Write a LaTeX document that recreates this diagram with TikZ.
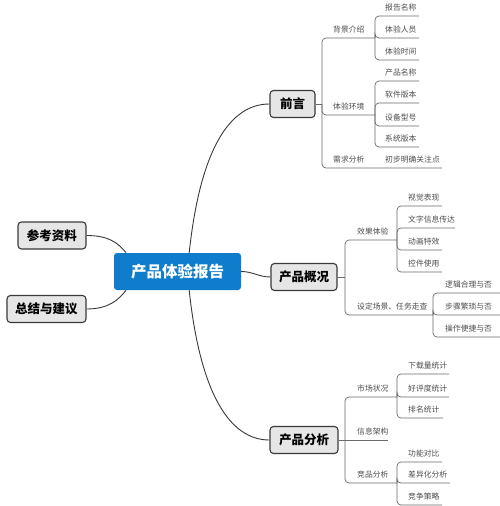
\documentclass[tikz,border=0pt]{standalone}
\usepackage{fontspec}
\setmainfont{Noto Sans CJK SC}
\usetikzlibrary{positioning}
\definecolor{rootblue}{HTML}{0F7DCB}
\definecolor{topicgray}{HTML}{E6E6E6}
\definecolor{edgegray}{HTML}{3A3A3A}
\definecolor{linegray}{HTML}{6A6A6A}
\definecolor{leafgray}{HTML}{4E4E4E}

\begin{document}
\begin{tikzpicture}[
  x=1pt, y=-1pt,
  root/.style={fill=rootblue, text=white, rounded corners=3pt, minimum width=127pt, minimum height=37pt, font=\fontsize{15.5}{16}\selectfont\bfseries},
  topic/.style={draw=edgegray, fill=topicgray, line width=1.1pt, rounded corners=3.5pt, minimum height=27pt, font=\fontsize{12.5}{13}\selectfont\bfseries},
  leaf/.style={anchor=base west, inner sep=0pt, text=leafgray, font=\fontsize{7.8}{8}\selectfont},
  branch/.style={draw=linegray, line width=0.7pt, rounded corners=4pt},
  link/.style={draw=edgegray, line width=0.9pt}
]
\useasboundingbox[fill=white] (0,0) rectangle (500,506);

% central topic and main topics
\node[root] (root) at (177.5,271.5) {产品体验报告};
\node[topic, minimum width=45pt] (qianyan) at (292.5,104) {前言};
\node[topic, minimum width=66pt] (gaikuang) at (304,277) {产品概况};
\node[topic, minimum width=68pt] (fenxi) at (304,440) {产品分析};
\node[topic, minimum width=68pt] (cankao) at (52,235.5) {参考资料};
\node[topic, minimum width=79pt] (zongjie) at (46.5,309) {总结与建议};

\draw[link] (root.58) .. controls +(11,-103) and +(-40,0) .. (qianyan.west);
\draw[link] (root.-58) .. controls +(11,103) and +(-40,0) .. (fenxi.west);
\draw[link] (root.east) to[out=0, in=180] (gaikuang.west);
\draw[link] (cankao.east) .. controls +(22,0) and +(-8,-10) .. (root.160);
\draw[link] (zongjie.east) .. controls +(22,0) and +(-8,10) .. (root.200);

% 前言
\coordinate (qyJ) at (322,104);
\draw[branch] (qianyan.east) -- (qyJ);
\coordinate (bjE) at (375,38);
\node[leaf] (bjT) at (333,32) {背景介绍};
\draw[branch] (qyJ) |- (bjE);
\foreach \txt/\yy/\xe [count=\i] in {报告名称/16/419, 体验人员/38/419, 体验时间/60/419} {
  \coordinate (bj\i) at (\xe,\yy);
  \node[leaf] (bjT\i) at (385,\yy-6) {\txt};
  \draw[branch] (bjE) |- (bj\i);
}
\coordinate (tyE) at (375,115);
\node[leaf] (tyT) at (333,109) {体验环境};
\draw[branch] (qyJ) |- (tyE);
\foreach \txt/\yy/\xe [count=\i] in {产品名称/81/419, 软件版本/103/419, 设备型号/126/419, 系统版本/147/419} {
  \coordinate (ty\i) at (\xe,\yy);
  \node[leaf] (tyT\i) at (385,\yy-6) {\txt};
  \draw[branch] (tyE) |- (ty\i);
}
\coordinate (xqE) at (442,168);
\node[leaf] (xqT) at (333,162) {需求分析};
\node[leaf] (xqT1) at (385,162) {初步明确关注点};
\draw[branch] (qyJ) |- (xqE);

% 产品概况
\coordinate (gkJ) at (345,277);
\draw[branch] (gaikuang.east) -- (gkJ);
\coordinate (xgE) at (397,240);
\node[leaf] (xgT) at (357,234) {效果体验};
\draw[branch] (gkJ) |- (xgE);
\foreach \txt/\yy/\xe [count=\i] in {视觉表现/206/442, 文字信息传达/228/455, 动画特效/250/442, 控件使用/272/442} {
  \coordinate (xg\i) at (\xe,\yy);
  \node[leaf] (xgT\i) at (408,\yy-6) {\txt};
  \draw[branch] (xgE) |- (xg\i);
}
\coordinate (cjE) at (433,315);
\node[leaf] (cjT) at (357,309) {设定场景、任务走查};
\draw[branch] (gkJ) |- (cjE);
\foreach \txt/\yy/\xe [count=\i] in {逻辑合理与否/293/500, 步骤繁琐与否/315/500, 操作便捷与否/337/500} {
  \coordinate (cj\i) at (\xe,\yy);
  \node[leaf] (cjT\i) at (445,\yy-6) {\txt};
  \draw[branch] (cjE) |- (cj\i);
}

% 产品分析
\coordinate (fxJ) at (345,440);
\draw[branch] (fenxi.east) -- (fxJ);
\coordinate (scE) at (397,397);
\node[leaf] (scT) at (357,391) {市场状况};
\draw[branch] (fxJ) |- (scE);
\foreach \txt/\yy/\xe [count=\i] in {下载量统计/374/449, 好评度统计/397/449, 排名统计/418/443} {
  \coordinate (sc\i) at (\xe,\yy);
  \node[leaf] (scT\i) at (408,\yy-6) {\txt};
  \draw[branch] (scE) |- (sc\i);
}
\coordinate (xxE) at (388,440);
\node[leaf] (xxT) at (357,434) {信息架构};
\draw[branch] (fxJ) -- (xxE);
\coordinate (jpE) at (397,483);
\node[leaf] (jpT) at (357,477) {竞品分析};
\draw[branch] (fxJ) |- (jpE);
\foreach \txt/\yy/\xe [count=\i] in {功能对比/462/442, 差异化分析/483/450, 竞争策略/505/442} {
  \coordinate (jp\i) at (\xe,\yy);
  \node[leaf] (jpT\i) at (408,\yy-6) {\txt};
  \draw[branch] (jpE) |- (jp\i);
}
\end{tikzpicture}
\end{document}
